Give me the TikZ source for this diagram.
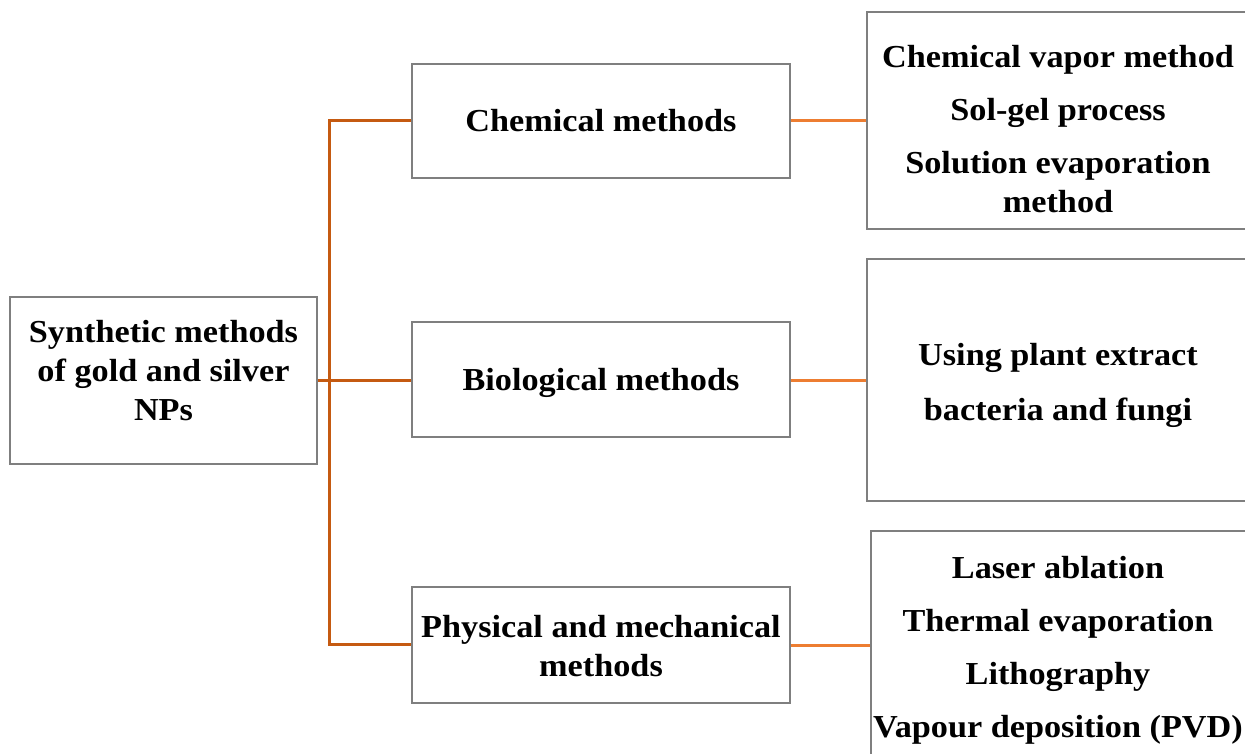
\documentclass[tikz,border=0pt]{standalone}
\usepackage{fontspec}
\setmainfont{Liberation Serif}[FakeStretch=1.07]
\definecolor{trunk}{HTML}{C55A11}
\definecolor{branch}{HTML}{ED7D31}
\definecolor{edge}{HTML}{7F7F7F}
\begin{document}
\begin{tikzpicture}[x=1pt,y=-1pt,
  box/.style={draw=edge,line width=1.4pt,rectangle,inner sep=0pt},
  txt/.style={align=center,font=\fontsize{32}{39}\selectfont\bfseries,inner sep=0pt},
  lconn/.style={draw=trunk,line width=3pt},
  rconn/.style={draw=branch,line width=3pt}]
\useasboundingbox (0,0) rectangle (1245,754);
% boxes
\node[box,minimum width=307,minimum height=167] (root) at (163.5,380.5) {};
\node[box,minimum width=378,minimum height=114] (chem) at (601,121) {};
\node[box,minimum width=378,minimum height=115] (bio) at (601,379.5) {};
\node[box,minimum width=378,minimum height=116] (phys) at (601,645) {};
\node[box,minimum width=384,minimum height=217] (chemR) at (1059,120.5) {};
\node[box,minimum width=384,minimum height=242] (bioR) at (1059,380) {};
\node[box,minimum width=380,minimum height=240] (physR) at (1061,651) {};
% texts
\node[txt] (rootT) at (163.5,371) {Synthetic methods\\ of gold and silver\\ NPs};
\node[txt] (chemT) at (601,121) {Chemical methods};
\node[txt] (bioT) at (601,383) {Biological methods};
\node[txt] (physT) at (601,646) {Physical and mechanical\\ methods};
\node[txt] (chemRT) at (1058,129) {Chemical vapor method\\[14pt] Sol-gel process\\[14pt] Solution evaporation\\ method};
\node[txt] (bioRT) at (1058,385) {Using plant extract\\[16pt] bacteria and fungi};
\node[txt] (physRT) at (1058,650.5) {Laser ablation\\[14pt] Thermal evaporation\\[14pt] Lithography\\[14pt] Vapour deposition (PVD)};
% connectors
\coordinate (jt) at (329,121);
\coordinate (jb) at (329,644);
\coordinate (jm) at (329,380);
\draw[lconn] (chem.west |- jt) -- (jt) -- (jb) -- (phys.west |- jb);
\draw[lconn] (root.east |- jm) -- (bio.west |- jm);
\draw[rconn] (chem.east) -- (chemR.west |- chem.east);
\draw[rconn] (bio.east |- jm) -- (bioR.west |- jm);
\draw[rconn] (phys.east) -- (physR.west |- phys.east);
\end{tikzpicture}
\end{document}
